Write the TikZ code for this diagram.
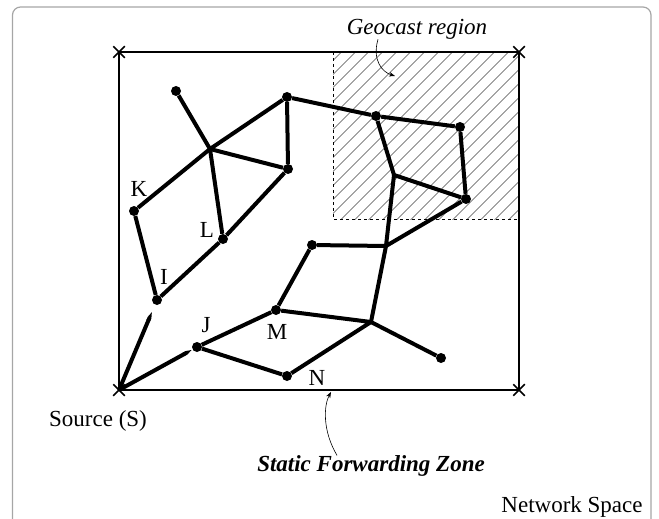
\documentclass[tikz,border=0pt]{standalone}
\usepackage{fontspec}
\setmainfont{Liberation Serif}
\usetikzlibrary{arrows.meta}
\usetikzlibrary{shapes.misc}
\usetikzlibrary{patterns.meta}

\begin{document}
\begin{tikzpicture}[x=1pt, y=-1pt,
  host/.style={circle, fill, inner sep=0pt, minimum size=10pt},
  hub/.style={coordinate},
  wire/.style={line width=4pt, line join=round},
  corner/.style={cross out, draw, line width=1.5pt, minimum size=10pt, inner sep=0pt},
  lbl/.style={font=\fontsize{23}{27}\selectfont, inner sep=0pt}]
  \clip (0,0) rectangle (659,519);
  \draw[gray!70, line width=1.2pt, rounded corners=8pt] (12.5,7) rectangle (651,560);

  % geocast region
  \fill[pattern={Lines[angle=45, distance=10.5pt, line width=0.6pt]}] (333,52) rectangle (519,219);
  \draw[dashed, line width=0.7pt] (333,52) -- (333,219) -- (519,219);

  % static forwarding zone
  \node[corner] (SW) at (119,390) {};
  \node[corner] (SE) at (519,390) {};
  \node[corner] (NE) at (519,52) {};
  \node[corner] (NW) at (119,52) {};
  \draw[line width=1.6pt] (SW.center) -- (SE.center) -- (NE.center) -- (NW.center) -- cycle;

  % hosts
  \node[host] (I) at (157,300) {};
  \node[host] (K) at (134,211) {};
  \node[host] (L) at (223,239) {};
  \node[hub] (A) at (210,149) {};
  \node[host] (B) at (176,91) {};
  \node[host] (C) at (287,97) {};
  \node[host] (D) at (288,169) {};
  \node[host] (E) at (376,116) {};
  \node[host] (F) at (460,127) {};
  \node[hub] (G) at (394,175) {};
  \node[host] (H) at (466,199) {};
  \node[hub] (P) at (386,246) {};
  \node[host] (Q) at (312,245) {};
  \node[host] (M) at (276,310) {};
  \node[hub] (R) at (371,322) {};
  \node[host] (T) at (441,358) {};
  \node[host] (J) at (197,347) {};
  \node[host] (N) at (287,376) {};

  \draw[wire, -{Triangle Cap[length=6pt]}, shorten >=8pt] (SW.center) -- (I);
  \draw[wire, -{Triangle Cap[length=6pt]}, shorten >=1pt] (SW.center) -- (J);
  \draw[wire] (I) -- (K) -- (A) -- (C) -- (D) -- (L) -- (I);
  \draw[wire] (B) -- (A) -- (D);
  \draw[wire] (A) -- (L);
  \draw[wire] (C) -- (E) -- (F) -- (H) -- (G) -- (E);
  \draw[wire] (H) -- (P) -- (G);
  \draw[wire] (Q) -- (P) -- (R) -- (T);
  \draw[wire] (Q) -- (M) -- (R) -- (N) -- (J) -- (M);

  % labels
  \node[lbl] (Klbl) at (139,189) {K};
  \node[lbl] (Llbl) at (207,230) {L};
  \node[lbl] (Ilbl) at (164,277) {I};
  \node[lbl] (Jlbl) at (206,325) {J};
  \node[lbl] (Mlbl) at (277,332) {M};
  \node[lbl] (Nlbl) at (317,378) {N};
  \node[lbl] (src) at (98,421) {Source (S)};
  \node[lbl] (net) at (572,507) {Network Space};
  \node[lbl, font=\fontsize{23}{27}\selectfont\itshape] (geo) at (417,29) {Geocast region};
  \node[lbl, font=\fontsize{23}{27}\selectfont\bfseries\itshape] (zone) at (371,466) {Static Forwarding Zone};

  \coordinate (geotip) at (395,76);
  \coordinate (zonetip) at (331,392);
  \draw[line width=0.6pt, -{Stealth[length=6pt]}] ([xshift=-39pt]geo.south) .. controls (372,60) and (382,72) .. (geotip);
  \draw[line width=0.6pt, -{Stealth[length=6pt]}] ([xshift=-34pt]zone.north) .. controls (322,430) and (324,405) .. (zonetip);
\end{tikzpicture}
\end{document}
